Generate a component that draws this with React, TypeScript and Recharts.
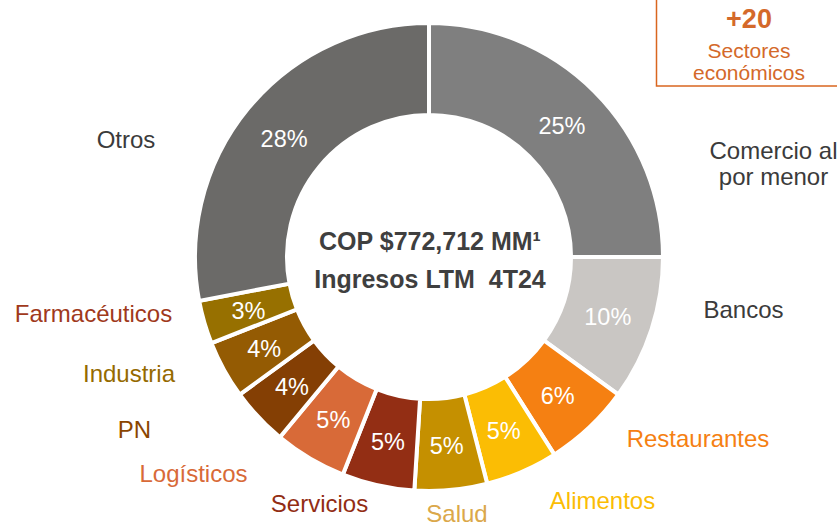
import React from 'react';
import { PieChart, Pie, Cell, Label } from 'recharts';

// ---- data ----
const sectors = [
  'Comercio al por menor',
  'Bancos',
  'Restaurantes',
  'Alimentos',
  'Salud',
  'Servicios',
  'Logísticos',
  'PN',
  'Industria',
  'Farmacéuticos',
  'Otros',
];
const shares = [25, 10, 6, 5, 5, 5, 5, 4, 4, 3, 28];
const labelLines = [
  ['Comercio al', 'por menor'],
  ['Bancos'],
  ['Restaurantes'],
  ['Alimentos'],
  ['Salud'],
  ['Servicios'],
  ['Logísticos'],
  ['PN'],
  ['Industria'],
  ['Farmacéuticos'],
  ['Otros'],
];
const centerLine1 = 'COP $772,712 MM¹';
const centerLine2 = 'Ingresos LTM\u00a0\u00a04T24';
const boxValue = '+20';
const boxLine1 = 'Sectores';
const boxLine2 = 'económicos';

// ---- styles ----
const sliceColors = [
  '#7f7f7f', '#c9c6c3', '#f58012', '#fbbd04', '#c59000', '#932e14',
  '#d86a38', '#843f04', '#945b03', '#977000', '#6b6a68',
];
const labelColors = [
  '#3b3b3b', '#3b3b3b', '#f58012', '#fbbd04', '#dba84a', '#922d14',
  '#d86a38', '#8a4500', '#956a00', '#a0391c', '#3b3b3b',
];
// outer label placement relative to pie centre (layout, not data)
const labelOffsets: [number, number][] = [
  [344.5, -93.5],
  [314.5, 52],
  [269, 181],
  [173.5, 243],
  [28, 256],
  [-109.5, 246.5],
  [-235.5, 216.5],
  [-294.5, 172],
  [-300, 116.5],
  [-335.5, 56.5],
  [-303, -118],
];

const FONT = '"Liberation Sans", Arial, Helvetica, sans-serif';
const W = 837;
const H = 525;
const CX = 429;
const CY = 257;
const RAD = Math.PI / 180;

const data = sectors.map((name, i) => ({ name, value: shares[i] }));

const renderLabel = (props: any) => {
  const { cx, cy, midAngle, innerRadius, outerRadius, index, value } = props;
  const r = (innerRadius + outerRadius) / 2;
  const x = cx + r * Math.cos(-midAngle * RAD);
  const y = cy + r * Math.sin(-midAngle * RAD);
  const [dx, dy] = labelOffsets[index];
  const lines = labelLines[index];
  const lh = 26;
  return (
    <g key={`lbl-${index}`}>
      <text
        x={x}
        y={y + 1.5}
        fill="#ffffff"
        fontSize={23.5}
        fontFamily={FONT}
        textAnchor="middle"
        dominantBaseline="central"
      >
        {`${value}%`}
      </text>
      {lines.map((ln, j) => (
        <text
          key={j}
          x={cx + dx}
          y={cy + dy + (j - (lines.length - 1) / 2) * lh}
          fill={labelColors[index]}
          fontSize={24}
          fontFamily={FONT}
          textAnchor="middle"
          dominantBaseline="central"
        >
          {ln}
        </text>
      ))}
    </g>
  );
};

const CenterContent = (props: any) => {
  const vb = props.viewBox || {};
  const cx = vb.cx ?? CX;
  const cy = vb.cy ?? CY;
  return (
    <g>
      <text
        x={cx + 1}
        y={cy - 16}
        fill="#3f3f3f"
        fontSize={25}
        fontWeight="bold"
        fontFamily={FONT}
        textAnchor="middle"
        dominantBaseline="central"
      >
        {centerLine1}
      </text>
      <text
        x={cx + 1}
        y={cy + 22}
        fill="#3f3f3f"
        fontSize={25}
        fontWeight="bold"
        fontFamily={FONT}
        textAnchor="middle"
        dominantBaseline="central"
      >
        {centerLine2}
      </text>
    </g>
  );
};

export default function App() {
  return (
    <div
      style={{
        position: 'absolute',
        left: 0,
        top: 0,
        width: W,
        height: H,
        background: '#ffffff',
        overflow: 'hidden',
        fontFamily: FONT,
      }}
    >
      <PieChart width={W} height={H} margin={{ top: 0, right: 0, bottom: 0, left: 0 }}>
        <Pie
          data={data}
          dataKey="value"
          nameKey="name"
          cx={CX}
          cy={CY}
          innerRadius={142}
          outerRadius={234}
          startAngle={90}
          endAngle={-270}
          stroke="#ffffff"
          strokeWidth={4}
          label={renderLabel}
          labelLine={false}
          isAnimationActive={false}
        >
          {data.map((d, i) => (
            <Cell key={d.name} fill={sliceColors[i]} />
          ))}
          <Label position="center" content={<CenterContent />} />
        </Pie>
      </PieChart>
      <svg
        width={W}
        height={H}
        style={{ position: 'absolute', left: 0, top: 0, pointerEvents: 'none' }}
      >
        <rect
          x={656.5}
          y={-10}
          width={200}
          height={96}
          fill="none"
          stroke="#d9661f"
          strokeWidth={1.5}
        />
        <text
          x={749}
          y={28}
          fill="#d4692a"
          fontSize={27}
          fontWeight="bold"
          fontFamily={FONT}
          textAnchor="middle"
        >
          {boxValue}
        </text>
        <text x={749} y={58} fill="#d4692a" fontSize={21} fontFamily={FONT} textAnchor="middle">
          {boxLine1}
        </text>
        <text x={749} y={80} fill="#d4692a" fontSize={21} fontFamily={FONT} textAnchor="middle">
          {boxLine2}
        </text>
      </svg>
    </div>
  );
}
